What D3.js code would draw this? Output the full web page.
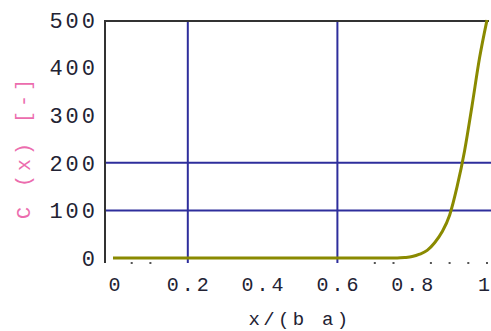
<!DOCTYPE html>
<html>
<head>
<meta charset="utf-8">
<script src="https://cdn.jsdelivr.net/npm/d3@7"></script>
<style>
  body { margin: 0; background: #fff; }
  svg text { font-family: "Liberation Mono", monospace; }
</style>
</head>
<body>
<svg id="chart" width="491" height="331"></svg>
<script>
// data
const xs = [0, 0.1, 0.2, 0.3, 0.4, 0.5, 0.6, 0.7, 0.76, 0.78, 0.80, 0.82, 0.84, 0.86, 0.88, 0.90, 0.92, 0.94, 0.96, 0.98, 1.0];
const cs = [0, 0, 0, 0, 0, 0, 0, 0, 0, 1, 3, 8, 16, 32, 55, 90, 150, 225, 320, 420, 500];
const xTicks = [0, 0.2, 0.4, 0.6, 0.8, 1];
const xTickLabels = ['0', '0.2', '0.4', '0.6', '0.8', '1'];
const yTicks = [0, 100, 200, 300, 400, 500];
const xGrid = [0.2, 0.6];
const yGrid = [100, 200];
const dotXs = [0.05, 0.1, 0.7, 0.75, 0.85, 0.9, 0.95, 1.0];

const svg = d3.select('#chart');

const x = d3.scaleLinear().domain([0, 1]).range([113, 487]);
const y = d3.scaleLinear().domain([0, 500]).range([258, 20]);
const plotLeft = 105, plotTop = 21, plotRight = 491, plotBottom = 263;

// grid
svg.selectAll('.hgrid').data(yGrid).enter().append('line')
  .attr('x1', plotLeft).attr('x2', plotRight)
  .attr('y1', d => y(d)).attr('y2', d => y(d))
  .attr('stroke', '#2e2e9c').attr('stroke-width', 2);

svg.selectAll('.vgrid').data(xGrid).enter().append('line')
  .attr('x1', d => x(d)).attr('x2', d => x(d))
  .attr('y1', plotTop).attr('y2', plotBottom)
  .attr('stroke', '#2e2e9c').attr('stroke-width', 2);

// frame
svg.append('line').attr('x1', plotLeft).attr('x2', plotLeft).attr('y1', plotTop).attr('y2', plotBottom)
  .attr('stroke', '#333').attr('stroke-width', 2);
svg.append('line').attr('x1', plotLeft - 1).attr('x2', 489).attr('y1', plotTop).attr('y2', plotTop)
  .attr('stroke', '#333').attr('stroke-width', 2);

// dots under the axis
svg.selectAll('.dot').data(dotXs).enter().append('rect')
  .attr('x', d => x(d) - 1).attr('y', 262).attr('width', 2).attr('height', 2)
  .attr('fill', '#555');

// curve
const line = d3.line().x((d, i) => x(xs[i])).y(d => y(d)).curve(d3.curveMonotoneX);
svg.append('path').datum(cs)
  .attr('d', line)
  .attr('fill', 'none')
  .attr('stroke', '#8a8a00')
  .attr('stroke-width', 3);

// tick labels
svg.selectAll('.ylab').data(yTicks).enter().append('text')
  .attr('x', 98).attr('y', d => y(d))
  .attr('dy', '0.35em')
  .attr('text-anchor', 'end')
  .style('font-size', '22px')
  .style('letter-spacing', '3px')
  .attr('fill', '#223')
  .text(d => d);

svg.selectAll('.xlab').data(xTicks).enter().append('text')
  .attr('x', d => Math.min(x(d) + 1.5, 484)).attr('y', 284)
  .attr('dy', '0.35em')
  .attr('text-anchor', 'middle')
  .style('font-size', '20px')
  .style('letter-spacing', (d, i) => xTickLabels[i].length > 1 ? '3px' : '0px')
  .attr('fill', '#223')
  .text((d, i) => xTickLabels[i]);

// axis titles
svg.append('text')
  .attr('x', 300).attr('y', 318)
  .attr('dy', '0.35em')
  .attr('text-anchor', 'middle')
  .style('font-size', '19px')
  .style('letter-spacing', '3.3px')
  .attr('fill', '#223')
  .text('x/(b a)');

svg.append('text')
  .attr('transform', 'translate(23,147) rotate(-90)')
  .attr('dy', '0.35em')
  .attr('text-anchor', 'middle')
  .style('font-size', '20px')
  .style('letter-spacing', '4px')
  .attr('fill', '#e8489a')
  .attr('opacity', 0.8)
  .text('C (x) [-]');
</script>
</body>
</html>
